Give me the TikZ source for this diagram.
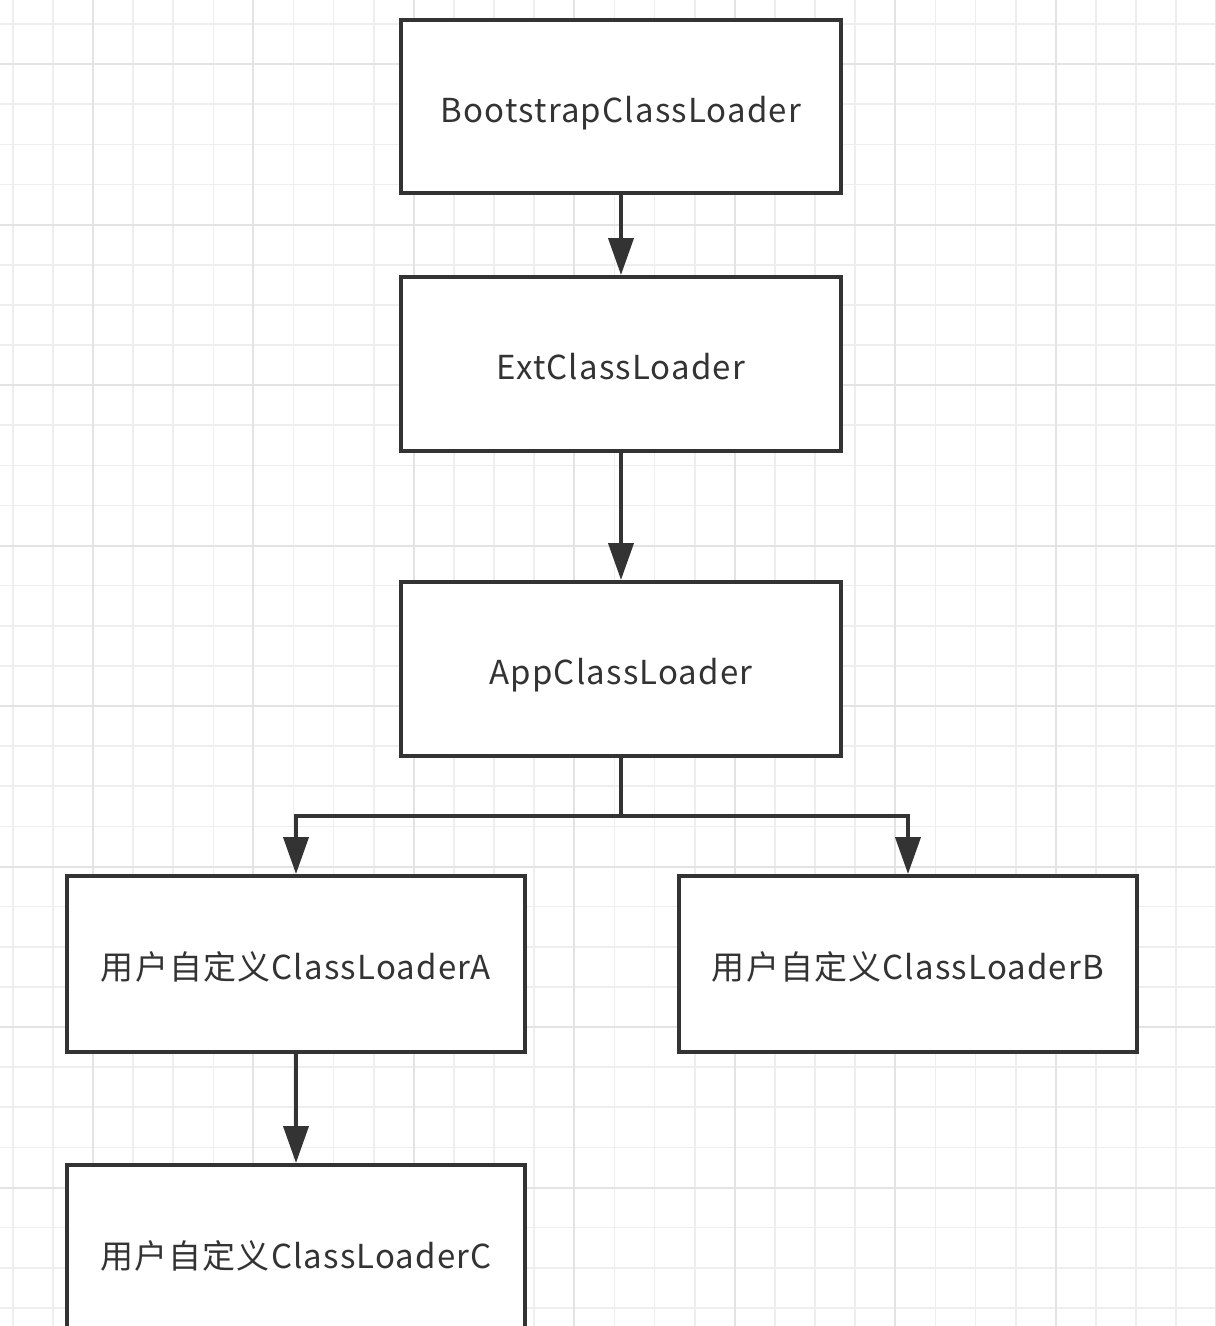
\documentclass[tikz,border=0pt]{standalone}
\usepackage{fontspec}
\setmainfont{Noto Sans CJK SC}[LetterSpace=3.5]
\usetikzlibrary{arrows.meta}
\definecolor{ink}{HTML}{333333}
\definecolor{gridminor}{HTML}{EEEEEE}
\definecolor{gridmajor}{HTML}{E3E3E3}
\tikzset{
  box/.style={draw=ink, line width=4pt, fill=white, minimum width=440pt, minimum height=174pt, inner sep=0pt,
    text=ink, font=\fontsize{33pt}{38pt}\selectfont, text height=31pt, text depth=0pt},
  widebox/.style={box, minimum width=458pt, minimum height=176pt},
  arr/.style={draw=ink, line width=4pt, -{Triangle[width=25pt,length=37pt]}},
  minorline/.style={draw=gridminor, line width=1.6pt},
  majorline/.style={draw=gridmajor, line width=2pt}
}
\begin{document}
\begin{tikzpicture}[x=1pt,y=-1pt]
\useasboundingbox (0,0) rectangle (1216,1326);
\clip (0,0) rectangle (1216,1326);
\fill[white] (0,0) rectangle (1216,1326);
% grid
\foreach \k in {0,...,30} \draw[minorline] ({12.7+40.12*\k},0) -- ({12.7+40.12*\k},1326);
\foreach \k in {0,...,32} \draw[minorline] (0,{24+40.12*\k}) -- (1216,{24+40.12*\k});
\foreach \k in {0,...,7} \draw[majorline] ({92.7+160.5*\k},0) -- ({92.7+160.5*\k},1326);
\foreach \k in {0,...,7} \draw[majorline] (0,{64+160.5*\k}) -- (1216,{64+160.5*\k});
% nodes
\node[box, minimum height=173pt] (boot) at (621,106.5) {BootstrapClassLoader};
\node[box] (ext) at (621,364) {ExtClassLoader};
\node[box] (app) at (621,669) {AppClassLoader};
\node[widebox] (a) at (296,964) {用户自定义ClassLoaderA};
\node[widebox] (b) at (908,964) {用户自定义ClassLoaderB};
\node[widebox] (c) at (296,1253) {用户自定义ClassLoaderC};
\coordinate (jn) at (621,816);
% connectors
\draw[arr] (boot) -- (ext);
\draw[arr] (ext) -- (app);
\draw[arr] (app.south) -- (jn) -| (a.north);
\draw[arr] (app.south) -- (jn) -| (b.north);
\draw[arr] (a) -- (c);
\end{tikzpicture}
\end{document}
